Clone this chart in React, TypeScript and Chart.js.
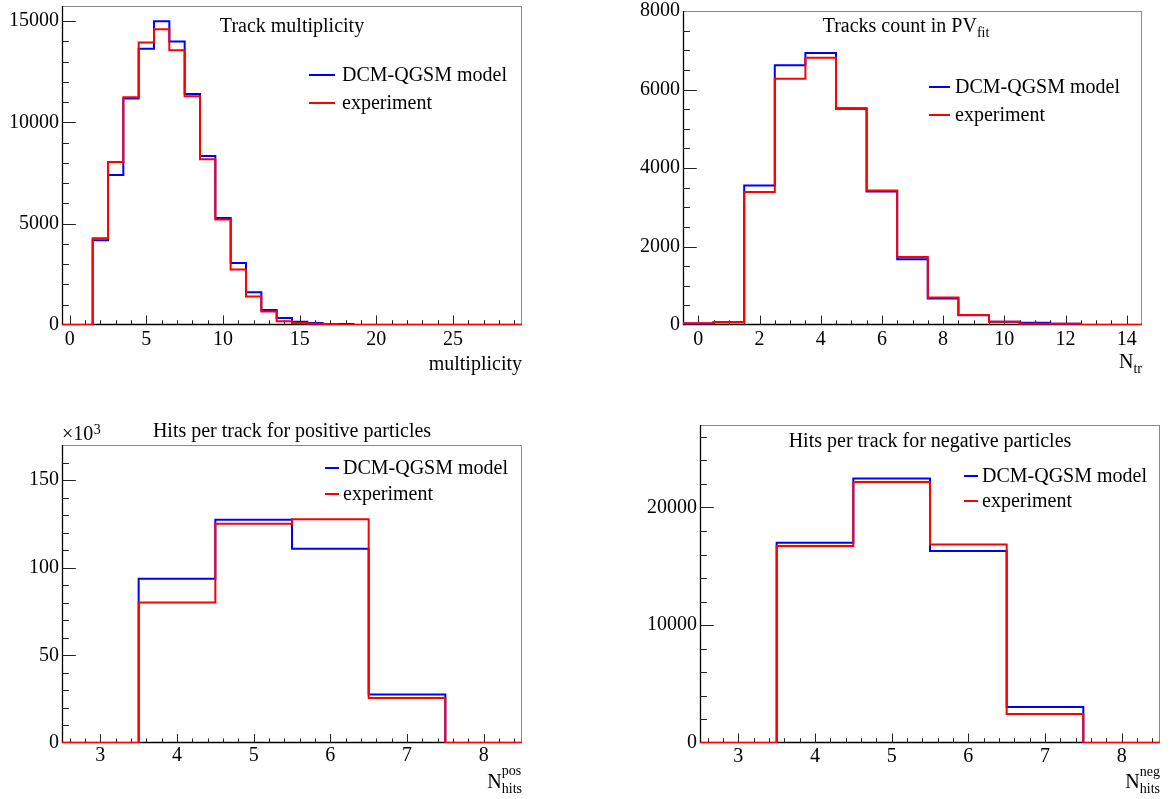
import React, { useEffect, useRef } from 'react';
import { Chart, registerables } from 'chart.js';

Chart.register(...registerables);

const FONT = "'Liberation Serif', 'Times New Roman', Times, serif";
const PAGE_W = 1171;
const PAGE_H = 799;

// ---------- Data ----------
// Track multiplicity (bin centres 0..29)
const MULT_BINS = [0, 1, 2, 3, 4, 5, 6, 7, 8, 9, 10, 11, 12, 13, 14, 15, 16, 17, 18, 19, 20, 21, 22, 23, 24, 25, 26, 27, 28, 29];
const MULT_MODEL = [0, 0, 4180, 7410, 11180, 13640, 15000, 14000, 11410, 8340, 5280, 3065, 1620, 740, 345, 165, 100, 35, 45, 0, 0, 0, 0, 0, 0, 0, 0, 0, 0, 0];
const MULT_EXP = [0, 0, 4280, 8050, 11245, 13950, 14600, 13570, 11290, 8180, 5210, 2740, 1410, 670, 180, 100, 65, 30, 10, 0, 0, 0, 0, 0, 0, 0, 0, 0, 0, 0];
const MULT_X_TICKS = [0, 5, 10, 15, 20, 25];
const MULT_Y_TICKS = [0, 5000, 10000, 15000];

// Tracks count in PV_fit (bin centres 0..14)
const NTR_BINS = [0, 1, 2, 3, 4, 5, 6, 7, 8, 9, 10, 11, 12, 13, 14];
const NTR_MODEL = [40, 70, 3556, 6620, 6933, 5520, 3403, 1676, 677, 250, 85, 55, 30, 0, 0];
const NTR_EXP = [45, 76, 3386, 6273, 6807, 5503, 3429, 1735, 703, 255, 85, 35, 30, 0, 0];
const NTR_X_TICKS = [0, 2, 4, 6, 8, 10, 12, 14];
const NTR_Y_TICKS = [0, 2000, 4000, 6000, 8000];

// Hits per track (bin centres 3..8)
const HITS_BINS = [3, 4, 5, 6, 7, 8];
const POS_MODEL = [0, 93700, 127400, 110800, 27600, 0];
const POS_EXP = [0, 80200, 125100, 127700, 25700, 0];
const NEG_MODEL = [0, 17000, 22460, 16300, 3060, 0];
const NEG_EXP = [0, 16720, 22150, 16860, 2460, 0];
const HITS_X_TICKS = [3, 4, 5, 6, 7, 8];
const POS_Y_TICKS = [0, 50000, 100000, 150000];
const NEG_Y_TICKS = [0, 10000, 20000];

const SERIES_LABELS = ['DCM-QGSM model', 'experiment'];
const SERIES_COLORS = ['#0000ff', '#ff0000'];

// ---------- Types ----------
type Part = { text: string; size: number; dy: number };
interface AxisTitle { main: string; sup?: string; sub?: string; right: number; base: number; supBase?: number; subBase?: number }
interface PanelCfg {
  id: string;
  frame: { l: number; t: number; r: number; b: number };
  bins: number[];
  model: number[];
  exp: number[];
  xMin: number; xMax: number; xTicks: number[]; xMinor: number; xMajor: number; xPad: number;
  yMin: number; yMax: number; yTicks: number[]; yMinor: number; yMajor: number; yDiv: number;
  title: { parts: Part[]; cx: number; base: number };
  legend: { x1: number; x2: number; tx: number; rows: number[] };
  axisTitle: AxisTitle;
  multiplier?: { x: number; base: number };
}

const Y_W = 60;
const X_H = 30;

const PANELS: PanelCfg[] = [
  {
    id: 'mult',
    frame: { l: 62, t: 6, r: 522, b: 325 },
    bins: MULT_BINS, model: MULT_MODEL, exp: MULT_EXP,
    xMin: -0.5, xMax: 29.5, xTicks: MULT_X_TICKS, xMinor: 1, xMajor: 5, xPad: 3,
    yMin: 0, yMax: 15750, yTicks: MULT_Y_TICKS, yMinor: 1000, yMajor: 5000, yDiv: 1,
    title: { parts: [{ text: 'Track multiplicity', size: 20, dy: 0 }], cx: 292, base: 32 },
    legend: { x1: 309, x2: 335, tx: 342, rows: [75, 103] },
    axisTitle: { main: 'multiplicity', right: 522, base: 370 },
  },
  {
    id: 'ntr',
    frame: { l: 683, t: 11, r: 1142, b: 325 },
    bins: NTR_BINS, model: NTR_MODEL, exp: NTR_EXP,
    xMin: -0.5, xMax: 14.5, xTicks: NTR_X_TICKS, xMinor: 0.5, xMajor: 2, xPad: 3,
    yMin: 0, yMax: 8000, yTicks: NTR_Y_TICKS, yMinor: 500, yMajor: 2000, yDiv: 1,
    title: { parts: [{ text: 'Tracks count in PV', size: 20, dy: 0 }, { text: 'fit', size: 14, dy: 5.5 }], cx: 906, base: 31.5 },
    legend: { x1: 929, x2: 950, tx: 955, rows: [87, 115] },
    axisTitle: { main: 'N', sub: 'tr', right: 1142, base: 368, subBase: 373 },
  },
  {
    id: 'pos',
    frame: { l: 62, t: 445, r: 522, b: 743 },
    bins: HITS_BINS, model: POS_MODEL, exp: POS_EXP,
    xMin: 2.5, xMax: 8.5, xTicks: HITS_X_TICKS, xMinor: 0.2, xMajor: 1, xPad: 1,
    yMin: 0, yMax: 170000, yTicks: POS_Y_TICKS, yMinor: 10000, yMajor: 50000, yDiv: 1000,
    title: { parts: [{ text: 'Hits per track for positive particles', size: 20, dy: 0 }], cx: 292, base: 436.5 },
    legend: { x1: 325, x2: 339, tx: 343, rows: [468, 494] },
    axisTitle: { main: 'N', sup: 'pos', sub: 'hits', right: 522, base: 788, supBase: 775, subBase: 793 },
    multiplier: { x: 62, base: 440 },
  },
  {
    id: 'neg',
    frame: { l: 700, t: 425, r: 1160, b: 743 },
    bins: HITS_BINS, model: NEG_MODEL, exp: NEG_EXP,
    xMin: 2.5, xMax: 8.5, xTicks: HITS_X_TICKS, xMinor: 0.2, xMajor: 1, xPad: 2,
    yMin: 0, yMax: 27000, yTicks: NEG_Y_TICKS, yMinor: 2000, yMajor: 10000, yDiv: 1,
    title: { parts: [{ text: 'Hits per track for negative particles', size: 20, dy: 0 }], cx: 930, base: 446.5 },
    legend: { x1: 964, x2: 978, tx: 982, rows: [476, 501] },
    axisTitle: { main: 'N', sup: 'neg', sub: 'hits', right: 1160, base: 788, supBase: 776, subBase: 793 },
  },
];

function histPoints(centers: number[], values: number[]) {
  const pts: { x: number; y: number }[] = [];
  centers.forEach((c, i) => {
    pts.push({ x: c - 0.5, y: values[i] });
    pts.push({ x: c + 0.5, y: values[i] });
  });
  return pts;
}

function isMultiple(v: number, step: number) {
  const q = v / step;
  return Math.abs(q - Math.round(q)) < 1e-6;
}

function setFont(ctx: CanvasRenderingContext2D, size: number) {
  ctx.font = `${size}px ${FONT}`;
}

function makePlugin(cfg: PanelCfg) {
  return {
    id: 'rootDecor_' + cfg.id,
    beforeDatasetsDraw(chart: any) {
      const ctx: CanvasRenderingContext2D = chart.ctx;
      const a = chart.chartArea;
      const xs = chart.scales.x;
      const ys = chart.scales.y;
      const w = a.right - a.left;
      const h = a.bottom - a.top;
      ctx.save();
      // frame: top & right grey
      ctx.lineWidth = 1;
      ctx.strokeStyle = '#8a8a8a';
      ctx.beginPath();
      ctx.moveTo(Math.round(a.left), Math.round(a.top) + 0.5);
      ctx.lineTo(Math.round(a.right), Math.round(a.top) + 0.5);
      ctx.moveTo(Math.round(a.right) - 0.5, Math.round(a.top));
      ctx.lineTo(Math.round(a.right) - 0.5, Math.round(a.bottom));
      ctx.stroke();
      // axes: left & bottom black
      ctx.strokeStyle = '#000';
      ctx.lineWidth = 1.3;
      ctx.beginPath();
      ctx.moveTo(a.left + 0.5, a.top);
      ctx.lineTo(a.left + 0.5, a.bottom);
      ctx.moveTo(a.left, a.bottom - 0.5);
      ctx.lineTo(a.right, a.bottom - 0.5);
      ctx.stroke();
      // ticks
      ctx.lineWidth = 1;
      ctx.strokeStyle = '#222';
      const yMaj = 0.03 * w;
      const xMaj = 0.03 * h;
      ctx.beginPath();
      const ny = Math.round((cfg.yMax - cfg.yMin) / cfg.yMinor);
      for (let i = 0; i <= ny; i++) {
        const v = cfg.yMin + i * cfg.yMinor;
        const p = Math.round(ys.getPixelForValue(v)) + 0.5;
        if (p < a.top + 1 || p > a.bottom - 1) continue;
        const len = isMultiple(v, cfg.yMajor) ? yMaj : yMaj / 2;
        ctx.moveTo(a.left, p);
        ctx.lineTo(a.left + len, p);
      }
      const x0 = Math.ceil(cfg.xMin / cfg.xMinor - 1e-9);
      const x1 = Math.floor(cfg.xMax / cfg.xMinor + 1e-9);
      for (let k = x0; k <= x1; k++) {
        const v = k * cfg.xMinor;
        const p = Math.round(xs.getPixelForValue(v)) + 0.5;
        if (p < a.left + 1 || p > a.right - 1) continue;
        const len = isMultiple(v, cfg.xMajor) ? xMaj : xMaj / 2;
        ctx.moveTo(p, a.bottom);
        ctx.lineTo(p, a.bottom - len);
      }
      ctx.stroke();
      ctx.restore();
    },
    afterDraw(chart: any) {
      const ctx: CanvasRenderingContext2D = chart.ctx;
      ctx.save();
      ctx.fillStyle = '#000';
      ctx.textBaseline = 'alphabetic';
      ctx.textAlign = 'left';
      // title
      let total = 0;
      for (const p of cfg.title.parts) {
        setFont(ctx, p.size);
        total += ctx.measureText(p.text).width;
      }
      let x = cfg.title.cx - total / 2;
      for (const p of cfg.title.parts) {
        setFont(ctx, p.size);
        ctx.fillText(p.text, x, cfg.title.base + p.dy);
        x += ctx.measureText(p.text).width;
      }
      // legend
      const lg = cfg.legend;
      const datasets = chart.data.datasets;
      SERIES_LABELS.forEach((label, i) => {
        const y = lg.rows[i];
        const ds = datasets.find((d: any) => d.label === label);
        ctx.strokeStyle = ds ? ds.borderColor : SERIES_COLORS[i];
        ctx.lineWidth = 2;
        ctx.beginPath();
        ctx.moveTo(lg.x1, y);
        ctx.lineTo(lg.x2, y);
        ctx.stroke();
        setFont(ctx, 20);
        ctx.textBaseline = 'middle';
        ctx.fillText(label, lg.tx, y + 0.5);
        ctx.textBaseline = 'alphabetic';
      });
      // axis title
      const at = cfg.axisTitle;
      if (!at.sup && !at.sub) {
        setFont(ctx, 20);
        ctx.textAlign = 'right';
        ctx.fillText(at.main, at.right, at.base);
        ctx.textAlign = 'left';
      } else {
        setFont(ctx, 14);
        const wSup = at.sup ? ctx.measureText(at.sup).width : 0;
        const wSub = at.sub ? ctx.measureText(at.sub).width : 0;
        const ws = Math.max(wSup, wSub);
        const sx = at.right - ws;
        if (at.sup) ctx.fillText(at.sup, sx, at.supBase!);
        if (at.sub) ctx.fillText(at.sub, sx, at.subBase!);
        setFont(ctx, 20);
        ctx.textAlign = 'right';
        ctx.fillText(at.main, sx, at.base);
        ctx.textAlign = 'left';
      }
      // multiplier
      if (cfg.multiplier) {
        setFont(ctx, 20);
        const m = '\u00d710';
        ctx.fillText(m, cfg.multiplier.x, cfg.multiplier.base);
        const mw = ctx.measureText(m).width;
        setFont(ctx, 14);
        ctx.fillText('3', cfg.multiplier.x + mw + 0.5, cfg.multiplier.base - 6);
      }
      ctx.restore();
    },
  };
}

function PanelChart({ cfg }: { cfg: PanelCfg }) {
  const ref = useRef<HTMLCanvasElement>(null);
  useEffect(() => {
    const canvas = ref.current;
    if (!canvas) return;
    const f = cfg.frame;
    const zeroPad = (s: any) => {
      s.paddingLeft = 0; s.paddingRight = 0; s.paddingTop = 0; s.paddingBottom = 0;
    };
    const chart = new Chart(canvas, {
      type: 'line',
      data: {
        datasets: [
          {
            label: SERIES_LABELS[0],
            data: histPoints(cfg.bins, cfg.model),
            borderColor: SERIES_COLORS[0],
            borderWidth: 2,
            pointRadius: 0,
            fill: false,
            tension: 0,
            order: 1,
          },
          {
            label: SERIES_LABELS[1],
            data: histPoints(cfg.bins, cfg.exp),
            borderColor: SERIES_COLORS[1],
            borderWidth: 2,
            pointRadius: 0,
            fill: false,
            tension: 0,
            order: 0,
          },
        ],
      },
      options: {
        animation: false,
        responsive: false,
        events: [],
        layout: {
          padding: {
            left: f.l - Y_W,
            top: f.t,
            right: PAGE_W - f.r,
            bottom: PAGE_H - f.b - X_H,
          },
        },
        plugins: {
          legend: { display: false },
          title: { display: false },
          tooltip: { enabled: false },
        },
        scales: {
          x: {
            type: 'linear',
            min: cfg.xMin,
            max: cfg.xMax,
            grid: { display: false, drawTicks: false },
            border: { display: false },
            afterBuildTicks: (s: any) => {
              s.ticks = cfg.xTicks.map((v) => ({ value: v }));
            },
            afterFit: (s: any) => {
              s.height = X_H;
              zeroPad(s);
            },
            ticks: {
              autoSkip: false,
              maxRotation: 0,
              minRotation: 0,
              padding: cfg.xPad,
              color: '#000',
              font: { family: FONT, size: 20 },
              callback: (v: any) => String(v),
            },
          },
          y: {
            type: 'linear',
            min: cfg.yMin,
            max: cfg.yMax,
            grid: { display: false, drawTicks: false },
            border: { display: false },
            afterBuildTicks: (s: any) => {
              s.ticks = cfg.yTicks.map((v) => ({ value: v }));
            },
            afterFit: (s: any) => {
              s.width = Y_W;
              zeroPad(s);
            },
            ticks: {
              autoSkip: false,
              padding: 3,
              color: '#000',
              font: { family: FONT, size: 20 },
              callback: (v: any) => String(Number(v) / cfg.yDiv),
            },
          },
        },
      },
      plugins: [makePlugin(cfg)],
    } as any);
    return () => chart.destroy();
  }, [cfg]);
  return (
    <canvas
      ref={ref}
      width={PAGE_W}
      height={PAGE_H}
      style={{ position: 'absolute', left: 0, top: 0, width: PAGE_W, height: PAGE_H }}
    />
  );
}

export default function App() {
  return (
    <div
      style={{
        position: 'absolute',
        left: 0,
        top: 0,
        width: PAGE_W,
        height: PAGE_H,
        background: '#fff',
        overflow: 'hidden',
      }}
    >
      {PANELS.map((p) => (
        <PanelChart key={p.id} cfg={p} />
      ))}
    </div>
  );
}
